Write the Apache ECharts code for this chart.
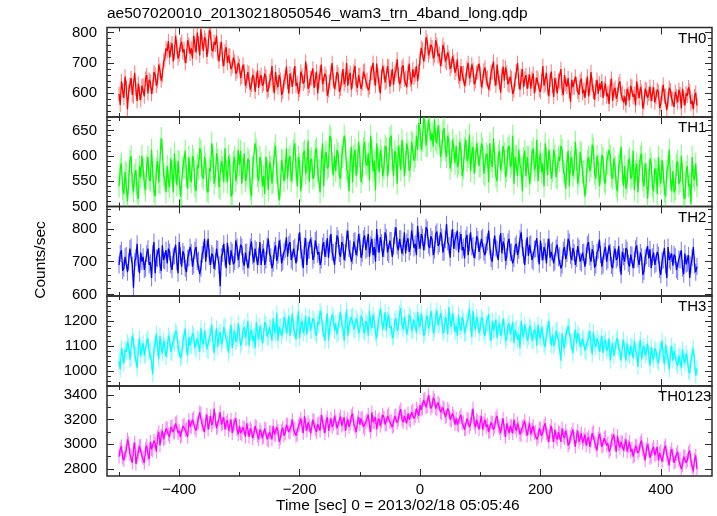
<!DOCTYPE html>
<html><head><meta charset="utf-8">
<script src="https://cdn.jsdelivr.net/npm/echarts@6/dist/echarts.min.js"></script>
<style>html,body{margin:0;padding:0;background:#fff}#c{width:717px;height:516px}</style>
</head><body><div id="c"></div>
<script>
// ---- data ----
const T_START = -500, T_STEP = 2; // time bins (sec)
const th0 = [
598,562,640,610,585,655,622,548,605,628,650,595,590,668,615,575,632,600,578,625,
625,590,648,660,600,645,638,598,622,670,662,625,640,695,675,642,660,705,712,748,
740,772,718,745,765,705,735,790,752,715,728,760,770,735,745,700,722,775,760,730,
748,715,790,760,735,800,765,725,812,770,740,785,775,720,755,808,800,745,738,770,
760,790,732,705,745,770,712,690,738,752,700,725,725,680,690,718,705,665,672,700,
690,650,655,695,672,625,640,670,665,612,628,660,652,605,645,675,618,650,660,625,
632,665,655,605,612,640,648,690,628,600,670,635,620,660,645,595,605,640,652,688,
638,600,665,645,622,660,690,625,635,598,612,672,658,632,640,705,672,615,625,650,
650,682,618,645,672,600,640,668,695,630,628,665,655,592,610,640,668,700,642,615,
635,670,662,605,615,648,680,630,645,700,625,655,668,612,640,672,690,628,618,660,
660,615,632,672,675,640,645,610,620,665,668,700,650,625,698,660,628,600,655,690,
670,635,640,690,688,622,652,680,628,665,675,712,660,630,640,685,692,645,650,620,
668,698,645,630,680,652,662,690,640,672,715,750,745,705,728,785,770,725,738,760,
752,715,725,775,760,722,730,690,712,760,745,705,700,735,718,680,690,722,705,668,
680,712,655,640,690,665,668,625,645,682,700,650,660,695,678,630,640,668,672,698,
665,620,640,675,685,648,652,612,630,668,670,705,648,625,695,652,635,602,658,688,
642,685,668,630,625,655,650,598,610,645,672,700,638,612,655,680,620,648,660,615,
640,662,615,648,665,600,628,652,648,612,605,640,690,625,630,668,618,590,645,672,
625,588,650,628,600,642,638,680,615,595,660,630,622,650,608,572,645,620,618,655,
630,605,595,640,648,600,612,585,625,655,590,618,670,628,605,578,620,645,598,632,
612,640,585,615,632,590,600,565,625,648,575,610,618,582,595,630,640,598,602,570,
590,560,615,598,578,625,622,588,598,560,640,605,585,620,605,550,570,615,612,585,
598,622,575,598,620,570,588,612,605,552,565,600,628,590,592,545,580,618,610,582,
582,555,605,590,570,612,598,550,615,585,560,600,592,620,608,565,575,548,590,602,
560];
const th1 = [
540,575,585,535,525,568,565,510,548,590,600,545,530,562,572,528,515,580,558,600,
575,545,532,580,598,555,550,612,568,530,520,575,590,548,545,635,612,562,555,528,
580,550,538,595,570,528,605,568,542,590,588,520,522,578,575,610,560,535,598,560,
548,600,592,540,530,582,575,615,610,560,555,598,585,532,528,575,570,625,600,545,
560,605,592,538,535,590,578,548,615,570,548,600,582,520,525,588,598,550,565,612,
582,610,545,575,605,550,560,595,590,535,520,578,575,625,612,560,550,598,585,540,
560,525,598,575,532,588,578,545,548,605,620,568,565,512,540,592,590,550,572,615,
555,592,600,550,568,612,625,575,540,598,585,530,560,605,610,565,575,630,548,590,
595,555,560,610,615,570,572,528,590,625,540,598,608,575,580,640,635,585,562,600,
570,612,605,560,555,598,598,640,620,575,568,530,590,618,548,600,612,560,585,628,
600,548,565,615,628,585,580,605,552,640,610,570,590,532,625,595,568,612,598,560,
575,620,615,560,585,635,640,592,560,610,598,545,620,600,572,632,605,560,588,625,
610,570,580,628,625,590,598,640,612,665,650,612,630,675,668,620,620,672,655,630,
645,618,672,632,625,660,640,598,610,648,655,612,598,640,625,575,590,632,615,585,
620,578,585,628,612,560,575,615,632,590,598,642,570,605,618,565,590,625,605,580,
580,625,615,565,562,605,600,548,625,590,578,635,598,560,550,600,610,572,588,620,
605,558,570,615,620,578,585,640,545,598,600,560,612,582,575,530,595,610,560,598,
598,545,565,608,615,572,580,632,550,590,605,568,585,540,625,595,562,612,590,555,
570,612,600,558,555,598,590,620,612,570,565,535,585,610,540,588,598,560,575,628,
592,545,560,608,605,568,570,520,548,590,598,570,580,622,615,565,555,600,582,540,
565,602,595,550,545,588,585,612,600,560,555,595,578,540,530,580,590,618,568,540,
580,535,548,590,595,555,560,610,532,570,585,528,570,598,605,552,540,585,565,515,
552,595,585,540,530,575,570,525,598,560,545,592,568,530,520,570,580,612,555,530,
570,528,535,582,590,545,550,600,565,520,515,568,580,540,545,505,598,560,552,585,
540];
const th2 = [
690,725,735,672,680,715,720,668,700,740,745,690,620,700,712,755,695,665,728,700,
715,675,680,725,740,690,698,650,725,760,665,712,710,742,690,672,750,705,702,735,
695,740,730,690,675,715,718,752,700,665,760,718,685,732,722,680,668,710,712,745,
728,685,690,735,745,700,705,662,680,722,735,770,700,740,770,715,690,725,718,678,
700,740,738,690,625,715,725,755,712,680,758,720,690,735,730,692,700,765,745,705,
710,752,745,700,688,728,730,680,705,745,762,718,698,740,735,690,715,760,690,728,
740,690,705,748,770,725,715,680,695,735,750,702,720,765,742,695,700,730,738,775,
715,752,760,705,700,740,745,695,725,760,790,735,712,680,748,772,690,735,735,770,
750,705,718,765,770,722,730,690,705,748,760,715,740,772,712,755,785,730,728,690,
735,780,770,725,715,760,752,705,728,770,795,740,740,700,718,762,765,720,742,785,
760,712,725,770,780,735,740,785,715,752,770,720,745,700,800,755,728,775,758,715,
740,790,775,728,722,765,765,715,748,780,805,748,735,770,770,725,745,790,725,760,
772,730,745,795,790,742,755,720,810,765,740,785,775,735,760,805,798,750,742,778,
768,720,735,785,792,748,755,790,775,728,730,768,815,760,750,712,772,800,740,765,
760,795,728,765,785,735,745,710,770,782,720,758,790,745,750,712,735,778,768,730,
735,770,775,730,720,752,760,795,745,710,700,745,780,742,738,705,755,788,725,762,
748,702,715,760,770,728,730,695,710,748,755,720,735,770,790,742,720,690,742,775,
718,752,755,705,700,738,740,772,725,692,765,730,705,745,732,695,745,770,712,730,
735,695,700,742,752,712,718,680,690,735,745,708,725,770,760,718,705,742,728,690,
710,748,742,700,695,728,730,685,718,752,760,715,700,738,725,682,690,728,735,768,
722,685,690,732,745,700,705,750,728,688,680,722,740,705,712,748,695,660,730,715,
700,742,735,695,685,722,720,680,705,740,750,708,690,728,715,660,670,712,718,748,
710,738,680,715,728,690,695,730,720,675,660,702,705,742,690,650,745,705,700,725,
688,722,715,675,670,708,705,735,680,662,725,692,695,720,650,690,712,745,690,668,
685];
const th3 = [
1040,1005,1090,1060,1030,1085,1075,1115,1100,1045,1050,1140,1120,1070,1065,1010,1095,1130,1060,1090,
1110,1060,1065,1120,1130,1075,1080,1035,985,1090,1105,1150,1090,1045,1140,1095,1070,1120,1100,1055,
1085,1140,1125,1075,1070,1118,1110,1160,1150,1095,1090,1050,1060,1115,1120,1170,1095,1060,1135,1100,
1100,1150,1140,1090,1085,1130,1125,1075,1170,1120,1105,1160,1130,1085,1080,1135,1145,1185,1115,1070,
1130,1170,1095,1140,1155,1105,1120,1175,1180,1125,1110,1070,1140,1185,1090,1135,1160,1115,1125,1190,
1150,1100,1115,1165,1175,1130,1135,1200,1100,1150,1165,1120,1140,1090,1195,1150,1125,1180,1155,1110,
1140,1195,1185,1135,1130,1175,1170,1120,1210,1165,1150,1230,1120,1175,1180,1140,1160,1215,1200,1150,
1175,1220,1140,1185,1230,1170,1165,1125,1190,1240,1130,1180,1200,1150,1170,1220,1145,1190,1215,1160,
1160,1210,1200,1150,1140,1195,1185,1240,1225,1170,1165,1120,1190,1230,1120,1175,1175,1225,1210,1160,
1190,1145,1150,1205,1235,1185,1170,1120,1200,1245,1140,1185,1180,1215,1220,1165,1160,1210,1195,1150,
1165,1220,1210,1160,1150,1200,1190,1140,1240,1185,1170,1225,1200,1150,1130,1180,1185,1250,1215,1165,
1195,1235,1160,1205,1225,1170,1180,1130,1140,1200,1210,1160,1175,1230,1250,1185,1165,1215,1190,1145,
1170,1225,1215,1160,1160,1205,1200,1150,1235,1190,1175,1230,1190,1140,1150,1205,1220,1170,1185,1240,
1205,1150,1165,1220,1240,1180,1185,1230,1210,1150,1160,1215,1195,1145,1255,1200,1175,1230,1200,1155,
1180,1140,1225,1175,1160,1215,1200,1150,1150,1195,1210,1250,1185,1135,1240,1190,1165,1215,1195,1150,
1170,1215,1205,1155,1140,1190,1185,1225,1150,1120,1200,1160,1165,1205,1130,1175,1190,1140,1160,1210,
1175,1120,1130,1180,1190,1145,1150,1195,1110,1165,1170,1125,1145,1090,1200,1155,1135,1185,1160,1120,
1135,1180,1170,1120,1120,1165,1155,1100,1185,1140,1130,1175,1150,1105,1095,1150,1165,1200,1140,1100,
1145,1100,1110,1160,1165,1120,1125,1040,1150,1105,1090,1140,1135,1180,1175,1120,1115,1070,1130,1165,
1110,1150,1140,1095,1090,1130,1125,1080,1075,1120,1130,1160,1105,1065,1155,1110,1095,1130,1115,1075,
1105,1140,1070,1110,1125,1080,1090,1130,1040,1085,1110,1060,1085,1120,1130,1090,1075,1040,1095,1125,
1080,1040,1110,1075,1060,1100,1095,1050,1120,1080,1070,1015,1090,1125,1045,1085,1100,1060,1075,1110,
1065,1020,1095,1060,1045,1090,1080,1040,1030,1075,1085,1120,1060,1025,1105,1065,1050,1005,1070,1100,
1040,1080,1075,1030,1020,1060,1060,1010,1085,1045,1030,1070,1050,1000,990,1040,1065,1090,1035,980,
1010];
const th0123 = [
2900,2960,2985,2890,2870,2930,2950,3040,3010,2920,2905,2850,2960,3015,2840,2900,2935,2985,2990,2905,
2890,2850,2960,2990,2920,2880,3020,2960,2950,3030,3005,2940,3060,3100,2990,3070,3110,3040,3050,3130,
3130,3080,3060,3140,3150,3100,3095,3170,3180,3090,3110,3060,3070,3150,3160,3115,3125,3060,3200,3140,
3140,3200,3215,3130,3110,3170,3175,3260,3250,3160,3150,3100,3195,3240,3120,3175,3230,3155,3180,3290,
3200,3130,3145,3210,3260,3160,3170,3220,3120,3175,3195,3110,3150,3200,3090,3150,3165,3210,3120,3080,
3150,3090,3080,3140,3135,3060,3170,3120,3060,3130,3110,3050,3085,3150,3140,3070,3040,3120,3100,3050,
3060,3130,3120,3040,3030,3100,3095,3040,3150,3080,3075,3140,3110,3020,3050,3110,3135,3070,3090,3160,
3160,3100,3095,3150,3200,3120,3130,3070,3080,3150,3170,3210,3145,3090,3230,3160,3110,3180,3155,3090,
3135,3200,3190,3120,3100,3165,3170,3110,3240,3180,3145,3090,3185,3220,3110,3160,3210,3140,3160,3230,
3190,3130,3130,3200,3225,3150,3165,3220,3110,3170,3205,3140,3170,3230,3250,3160,3140,3100,3180,3220,
3160,3210,3215,3140,3125,3180,3195,3240,3150,3100,3260,3180,3175,3220,3120,3190,3210,3150,3185,3240,
3220,3160,3160,3230,3245,3180,3190,3140,3150,3230,3235,3175,3200,3260,3285,3200,3180,3230,3225,3170,
3250,3200,3190,3260,3275,3210,3230,3290,3260,3230,3320,3280,3290,3360,3370,3300,3310,3400,3345,3290,
3310,3380,3360,3290,3280,3340,3325,3260,3250,3300,3290,3220,3230,3290,3270,3200,3190,3250,3225,3160,
3210,3160,3150,3220,3240,3170,3180,3120,3125,3210,3200,3140,3165,3230,3290,3170,3140,3200,3185,3120,
3180,3230,3120,3170,3200,3140,3160,3100,3105,3180,3175,3120,3140,3210,3230,3150,3130,3090,3160,3210,
3115,3060,3170,3130,3090,3150,3145,3090,3200,3140,3110,3170,3135,3080,3075,3140,3150,3190,3120,3070,
3130,3170,3080,3120,3150,3090,3100,3040,3060,3130,3125,3070,3095,3150,3170,3090,3070,3020,3110,3150,
3075,3020,3120,3060,3040,3100,3090,3020,3130,3070,3050,3110,3070,2990,3010,3060,3085,3120,3045,2980,
3065,3110,3020,3050,3090,3010,3040,3080,2990,3040,3060,2980,3030,3090,3100,3020,3005,2950,3045,3085,
3040,2980,2990,3050,3060,2990,3010,2940,2960,3030,3035,3080,2995,2940,3070,3000,2975,3020,3015,2950,
2995,3040,2940,2980,3020,2940,2965,2900,2910,2990,2985,2930,2950,3010,3030,2960,2925,2870,2960,3000,
2955,2890,2900,2960,2980,2910,2920,2980,2870,2930,2945,2860,2910,2970,2990,2910,2880,2830,2925,2960,
2910,2850,2860,2920,2940,2870,2880,2800,2830,2900,2905,2850,2870,2930,2950,2870,2820,2780,2875,2910,
2800];
// typical 1-sigma error bars (counts/sec)
const errTH0 = 24, errTH1 = 22, errTH2 = 26, errTH3 = 32, errTH0123 = 55;
const panelNames = ['TH0', 'TH1', 'TH2', 'TH3', 'TH0123'];
// axis ranges and tick labels
const xRange = [-520, 485];
const xMajorTicks = [-400, -200, 0, 200, 400];
const xMinorTicks = [-500, -300, -100, 100, 300];
const yRanges = [[522, 817], [500, 677], [595, 869], [939, 1299], [2743, 3473]];
const yTicksTH0 = [600, 700, 800];
const yTicksTH1 = [500, 550, 600, 650];
const yTicksTH2 = [600, 700, 800];
const yTicksTH3 = [1000, 1100, 1200];
const yTicksTH0123 = [2800, 3000, 3200, 3400];
const yMinorSteps = [20, 10, 20, 20, 100];
const titleText = 'ae507020010_20130218050546_wam3_trn_4band_long.qdp';
const yTitle = 'Counts/sec';
const xTitle = 'Time [sec] 0 = 2013/02/18 05:05:46';

// ---- styling / layout ----
const seriesValues = [th0, th1, th2, th3, th0123];
const errs = [errTH0, errTH1, errTH2, errTH3, errTH0123];
const yMajor = [yTicksTH0, yTicksTH1, yTicksTH2, yTicksTH3, yTicksTH0123];
const colors = ['#ff0000', '#00ff00', '#0000ff', '#00ffff', '#ff00ff'];
const errColors = ['rgba(255,0,0,0.5)', 'rgba(0,255,0,0.5)', 'rgba(0,0,255,0.5)', 'rgba(0,255,255,0.5)', 'rgba(255,0,255,0.5)'];
const tops = [27.5, 117, 206.5, 296, 386];
const heights = [89.5, 89.5, 89.5, 90, 90];
const labelLeft = [678, 678, 678, 678, 658];
const FONT = 'Liberation Sans, Arial, Helvetica, sans-serif';
const FRAME = '#2a2a2a';

function fmtX(v) { return v < 0 ? '\u2212' + Math.abs(v) : String(v); }
function fmtY(v) { return String(v); }
function minorVals(range, step, majors) {
  const out = [];
  for (let v = Math.ceil(range[0] / step) * step; v <= range[1]; v += step) {
    if (majors.indexOf(v) < 0) out.push(v);
  }
  return out;
}

const grids = [], xAxes = [], yAxes = [], series = [], graphics = [];
for (let i = 0; i < 5; i++) {
  grids.push({ left: 107, right: 5, top: tops[i], height: heights[i], show: true,
    borderColor: FRAME, borderWidth: 1.5, backgroundColor: 'transparent' });
  const xDefs = [
    { pos: 'bottom', vals: xMajorTicks, len: 7, label: i === 4 },
    { pos: 'top', vals: xMajorTicks, len: 7, label: false },
    { pos: 'bottom', vals: xMinorTicks, len: 4, label: false },
    { pos: 'top', vals: xMinorTicks, len: 4, label: false }
  ];
  xDefs.forEach(d => {
    xAxes.push({ type: 'value', gridIndex: i, min: xRange[0], max: xRange[1], position: d.pos,
      axisLine: { show: false, onZero: false }, splitLine: { show: false },
      axisTick: { show: true, inside: true, length: d.len, customValues: d.vals, lineStyle: { color: FRAME, width: 1 } },
      axisLabel: { show: d.label, customValues: d.vals, formatter: fmtX, color: '#000', fontSize: 15, fontFamily: FONT, margin: 6 }
    });
  });
  const yMin = minorVals(yRanges[i], yMinorSteps[i], yMajor[i]);
  const yDefs = [
    { pos: 'left', vals: yMajor[i], len: 7, label: true },
    { pos: 'right', vals: yMajor[i], len: 7, label: false },
    { pos: 'left', vals: yMin, len: 4, label: false },
    { pos: 'right', vals: yMin, len: 4, label: false }
  ];
  yDefs.forEach(d => {
    yAxes.push({ type: 'value', gridIndex: i, min: yRanges[i][0], max: yRanges[i][1], position: d.pos,
      axisLine: { show: false, onZero: false }, splitLine: { show: false },
      axisTick: { show: true, inside: true, length: d.len, customValues: d.vals, lineStyle: { color: FRAME, width: 1 } },
      axisLabel: { show: d.label, customValues: d.vals, formatter: fmtY, color: '#000', fontSize: 15, fontFamily: FONT, margin: 10 }
    });
  });
  const vals = seriesValues[i];
  const e = errs[i];
  const pts = vals.map((v, k) => [T_START + k * T_STEP, v]);
  const bars = vals.map((v, k) => [T_START + k * T_STEP, v - e, v + e]);
  series.push({
    type: 'custom', xAxisIndex: 4 * i, yAxisIndex: 4 * i, data: bars, clip: true, silent: true,
    animation: false, encode: { x: 0, y: [1, 2] },
    renderItem: (params, api) => {
      const p1 = api.coord([api.value(0), api.value(1)]);
      const p2 = api.coord([api.value(0), api.value(2)]);
      return { type: 'line', shape: { x1: p1[0], y1: p1[1], x2: p2[0], y2: p2[1] },
        style: { stroke: errColors[i], lineWidth: 1.1 } };
    }
  });
  series.push({
    type: 'line', name: panelNames[i], xAxisIndex: 4 * i, yAxisIndex: 4 * i, data: pts,
    showSymbol: false, symbol: 'none', clip: true, animation: false, silent: true,
    lineStyle: { color: colors[i], width: 1.3 }
  });
  graphics.push({ type: 'text', left: labelLeft[i], top: tops[i] + 3.5,
    style: { text: panelNames[i], fill: '#000', font: '15px ' + FONT } });
}
graphics.push({ type: 'text', left: 107, top: 6, style: { text: titleText, fill: '#000', font: '15.5px ' + FONT } });
graphics.push({ type: 'text', left: 276, top: 498, style: { text: xTitle, fill: '#000', font: '15.5px ' + FONT } });
graphics.push({ type: 'text', x: 41, y: 260, rotation: Math.PI / 2,
  style: { text: yTitle, fill: '#000', font: '15.5px ' + FONT, textAlign: 'center', textVerticalAlign: 'middle' } });

const chart = echarts.init(document.getElementById('c'), null, { renderer: 'canvas' });
chart.setOption({ animation: false, backgroundColor: '#fff', grid: grids, xAxis: xAxes, yAxis: yAxes, series: series, graphic: graphics });
</script></body></html>
